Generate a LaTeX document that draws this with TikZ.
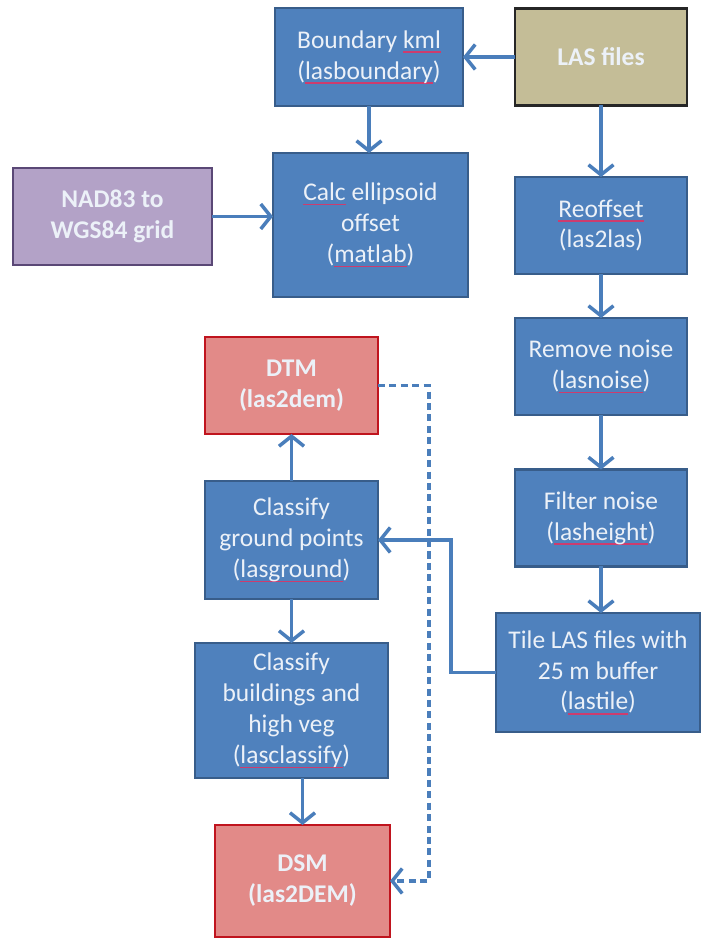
\documentclass[tikz,border=0pt]{standalone}
\usepackage{fontspec}
\setmainfont{Carlito}
\usepackage{tikz}
\usetikzlibrary{arrows.meta, positioning, calc}
\definecolor{procblue}{RGB}{79, 129, 189}
\definecolor{procedge}{RGB}{56, 93, 138}
\definecolor{lastan}{RGB}{196, 189, 151}
\definecolor{gridpurple}{RGB}{179, 162, 199}
\definecolor{gridedge}{RGB}{90, 72, 118}
\definecolor{demred}{RGB}{226, 138, 136}
\definecolor{demedge}{RGB}{192, 20, 30}
\definecolor{boxtext}{RGB}{236, 241, 248}
\definecolor{spellred}{RGB}{205, 60, 110}
\definecolor{arrowblue}{RGB}{74, 126, 187}
\newcommand{\spl}[1]{\leavevmode\setbox0\hbox{#1}\rlap{\color{spellred}\rule[-2.6pt]{\wd0}{0.7pt}}\box0\relax}
\tikzset{
    flowbox/.style={draw, rectangle, inner sep=0pt, outer sep=0pt, line width=1.4pt, align=center, text=boxtext, font=\fontsize{14.5}{17.6}\selectfont},
    procbox/.style={flowbox, fill=procblue, draw=procedge, minimum width=3.44cm, minimum height=1.94cm},
    lasbox/.style={flowbox, fill=lastan, draw=black!85, font=\fontsize{14.5}{17.6}\selectfont\bfseries},
    gridbox/.style={flowbox, fill=gridpurple, draw=gridedge, font=\fontsize{14.5}{17.6}\selectfont\bfseries},
    dembox/.style={flowbox, fill=demred, draw=demedge, line width=1.6pt, font=\fontsize{14.5}{17.6}\selectfont\bfseries},
    flowarrow/.style={-{Straight Barb[length=2mm, width=5mm]}, line width=2pt, draw=arrowblue},
    linkarrow/.style={flowarrow, dash pattern=on 4pt off 2.5pt},
}
\begin{document}
\begin{tikzpicture}[x=0.02cm, y=-0.02cm]
\useasboundingbox (0,0) rectangle (701,939);
% top row
\node[procbox, minimum width=3.76cm, minimum height=1.96cm] (boundary) at (369,57) {Boundary \spl{kml}\\(\spl{lasboundary})};
\node[lasbox, minimum width=3.44cm, minimum height=1.94cm] (lasfiles) at (601,57) {LAS files};
\node[gridbox, minimum width=3.98cm, minimum height=1.94cm] (nadgrid) at (112.5,216.5) {NAD83 to\\WGS84 grid};
\node[procbox, minimum width=3.9cm, minimum height=2.88cm] (ellipsoid) at (370.5,225) {\spl{Calc} ellipsoid\\offset\\(\spl{matlab})};
% right column
\node[procbox] (reoffset) at (601,225.5) {\spl{Reoffset}\\(las2las)};
\node[procbox] (removenoise) at (601,366.5) {Remove noise\\(\spl{lasnoise})};
\node[procbox] (filternoise) at (601,518) {Filter noise\\(\spl{lasheight})};
\node[procbox, minimum width=4.08cm, minimum height=2.38cm] (tile) at (598,672.5) {Tile LAS files with\\25 m buffer\\(\spl{lastile})};
% left column
\node[dembox, minimum width=3.46cm, minimum height=1.94cm] (dtm) at (291.5,385.5) {DTM\\(las2dem)};
\node[procbox, minimum width=3.46cm, minimum height=2.36cm] (ground) at (291.5,540) {Classify\\ground points\\(\spl{lasground})};
\node[procbox, minimum width=3.86cm, minimum height=2.7cm] (buildings) at (291.5,710.5) {Classify\\buildings and\\high veg\\(\spl{lasclassify})};
\node[dembox, minimum width=3.5cm, minimum height=2.24cm] (dsm) at (302.5,881) {DSM\\(las2DEM)};

\draw[flowarrow] (lasfiles) -- (boundary);
\draw[flowarrow] (boundary.south) -- (boundary.south |- ellipsoid.north);
\draw[flowarrow] (nadgrid.east) -- (nadgrid.east -| ellipsoid.west);
\draw[flowarrow] (lasfiles) -- (reoffset);
\draw[flowarrow] (reoffset) -- (removenoise);
\draw[flowarrow] (removenoise) -- (filternoise);
\draw[flowarrow] (filternoise.south) -- (filternoise.south |- tile.north);
\draw[flowarrow] (tile.west) -- ++(-45,0) |- (ground.east);
\draw[flowarrow] (ground) -- (dtm);
\draw[flowarrow] (ground) -- (buildings);
\draw[flowarrow] (buildings.south -| dsm.north) -- (dsm.north);
\draw[linkarrow] (dtm.east) -- ++(51,0) |- (dsm.east);
\end{tikzpicture}
\end{document}
